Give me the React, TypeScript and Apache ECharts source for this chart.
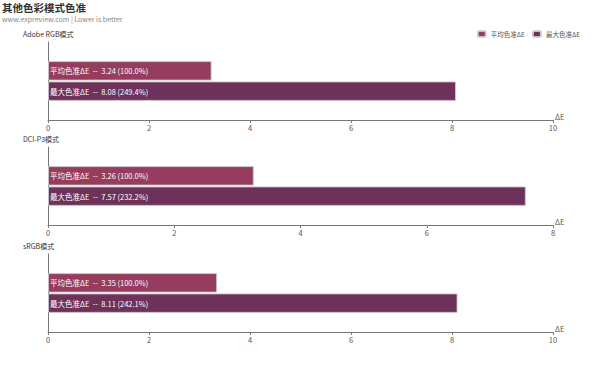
import React, { useEffect, useRef } from "react";
import * as echarts from "echarts";

const modes = ["Adobe RGB模式", "DCI-P3模式", "sRGB模式"];
const seriesNames = ["平均色准ΔE", "最大色准ΔE"];
const avgValues = [3.24, 3.26, 3.35];
const maxValues = [8.08, 7.57, 8.11];
const axisMax = [10, 8, 10];
const colors = ["#963c5e", "#6e3159"];

const gridTops = [42, 147, 254];
const gridHeight = 78;

export default function App() {
  const ref = useRef<HTMLDivElement>(null);
  useEffect(() => {
    const chart = echarts.init(ref.current!, null, { renderer: "svg" });
    const font = "'Noto Sans CJK SC', 'Noto Sans', sans-serif";
    const grids = gridTops.map((t) => ({ left: 48, right: 47, top: t, height: gridHeight }));
    const xAxes = axisMax.map((m, i) => ({
      type: "value",
      gridIndex: i,
      min: 0,
      max: m,
      interval: 2,
      name: "ΔE",
      nameGap: 2,
      nameTextStyle: { fontSize: 7.5, color: "#555", fontFamily: font, verticalAlign: "bottom", padding: [0, 0, 0, 0] },
      axisLine: { show: true, lineStyle: { color: "#777", width: 1 } },
      axisTick: { show: true, length: 3, lineStyle: { color: "#777" } },
      axisLabel: { fontSize: 7.5, color: "#555", fontFamily: font, margin: 4 },
      splitLine: { show: false },
    }));
    const yAxes = modes.map((mo, i) => ({
      type: "category",
      gridIndex: i,
      data: [mo],
      inverse: true,
      axisLine: { show: true, lineStyle: { color: "#777", width: 1 } },
      axisTick: { show: false },
      axisLabel: { show: false },
    }));
    const series: any[] = [];
    modes.forEach((_, i) => {
      [avgValues[i], maxValues[i]].forEach((v, j) => {
        const pct = ((v / avgValues[i]) * 100).toFixed(1);
        series.push({
          type: "bar",
          name: seriesNames[j],
          xAxisIndex: i,
          yAxisIndex: i,
          data: [v],
          barCategoryGap: "49%",
          barGap: "4%",
          itemStyle: { color: colors[j], borderColor: "rgba(205,205,205,0.9)", borderWidth: 1 },
          label: {
            show: true,
            position: "insideLeft",
            distance: 2,
            color: "#fff",
            fontSize: 7.5,
            fontFamily: font,
            formatter: () => `${seriesNames[j]}  --  ${v.toFixed(2)} (${pct}%)`,
          },
        });
      });
    });
    const titles: any[] = [
      {
        text: "其他色彩模式色准",
        left: 2,
        top: 1,
        padding: 0,
        textStyle: { fontSize: 10.5, fontWeight: "bold", color: "#333", fontFamily: font, lineHeight: 12 },
      },
      {
        text: "www.expreview.com | Lower is better",
        left: 2,
        top: 14,
        padding: 0,
        textStyle: { fontSize: 7, fontWeight: "normal", color: "#888", fontFamily: font, lineHeight: 9 },
      },
    ];
    modes.forEach((mo, i) => {
      titles.push({
        text: mo,
        left: 23,
        top: gridTops[i] - 12,
        padding: 0,
        textStyle: { fontSize: 7, fontWeight: "normal", color: "#333", fontFamily: font },
      });
    });
    chart.setOption({
      animation: false,
      backgroundColor: "#fff",
      title: titles,
      legend: {
        data: seriesNames,
        right: 20,
        top: 30,
        padding: 0,
        itemWidth: 8,
        itemHeight: 6,
        itemGap: 7,
        textStyle: { fontSize: 6.5, color: "#555", fontFamily: font },
      },
      grid: grids,
      xAxis: xAxes,
      yAxis: yAxes,
      series,
    });
    return () => chart.dispose();
  }, []);
  return <div ref={ref} style={{ position: "fixed", left: 0, top: 0, width: 600, height: 367 }} />;
}
